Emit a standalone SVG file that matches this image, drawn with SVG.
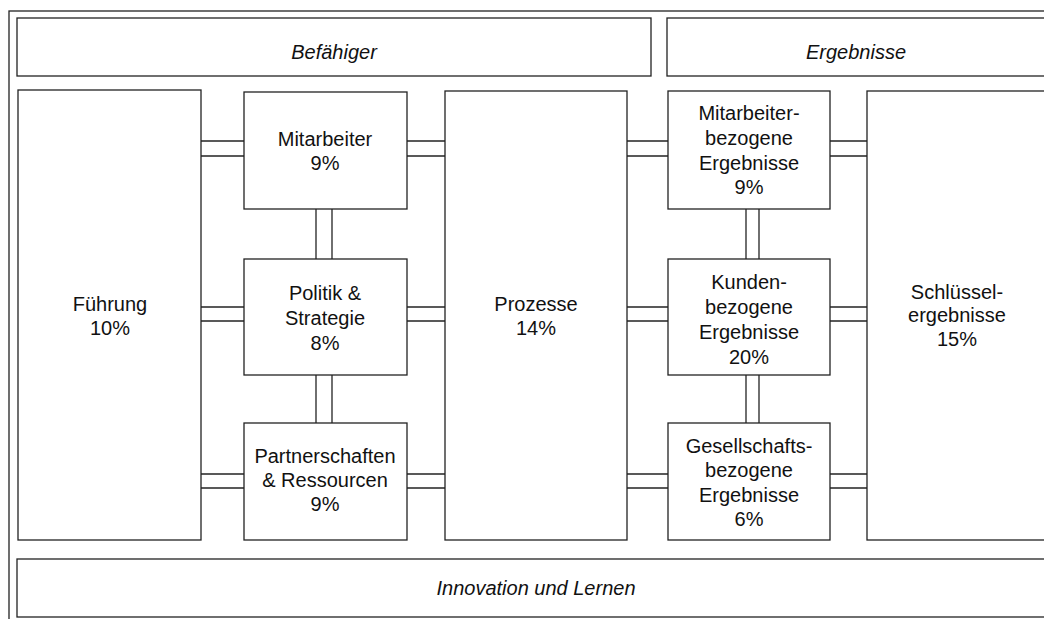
<svg xmlns="http://www.w3.org/2000/svg" width="1044" height="619" viewBox="0 0 1044 619">
  <style>
    .box { fill: #ffffff; stroke: #222222; stroke-width: 1.3; }
    .frame { fill: none; stroke: #222222; stroke-width: 1.3; }
    .link line { stroke: #222222; stroke-width: 1.3; }
    text { font-family: "Liberation Sans", Arial, sans-serif; font-size: 20px; fill: #111111; text-anchor: middle; }
    .hdr { font-style: italic; }
  </style>

  <!-- outer frame, running past the right and bottom edges -->
  <rect class="frame" x="9" y="11" width="1060" height="640"/>

  <!-- connectors: double bars between neighbouring boxes -->
  <g id="connectors" class="link">
    <!-- Führung to left column -->
    <line x1="201" y1="141" x2="244" y2="141"/><line x1="201" y1="156" x2="244" y2="156"/>
    <line x1="201" y1="307" x2="244" y2="307"/><line x1="201" y1="321" x2="244" y2="321"/>
    <line x1="201" y1="474" x2="244" y2="474"/><line x1="201" y1="488" x2="244" y2="488"/>
    <!-- left column to Prozesse -->
    <line x1="407" y1="141" x2="445" y2="141"/><line x1="407" y1="156" x2="445" y2="156"/>
    <line x1="407" y1="307" x2="445" y2="307"/><line x1="407" y1="321" x2="445" y2="321"/>
    <line x1="407" y1="474" x2="445" y2="474"/><line x1="407" y1="488" x2="445" y2="488"/>
    <!-- Prozesse to right column -->
    <line x1="627" y1="141" x2="668" y2="141"/><line x1="627" y1="156" x2="668" y2="156"/>
    <line x1="627" y1="307" x2="668" y2="307"/><line x1="627" y1="321" x2="668" y2="321"/>
    <line x1="627" y1="474" x2="668" y2="474"/><line x1="627" y1="488" x2="668" y2="488"/>
    <!-- right column to Schlüsselergebnisse -->
    <line x1="830" y1="141" x2="867" y2="141"/><line x1="830" y1="156" x2="867" y2="156"/>
    <line x1="830" y1="307" x2="867" y2="307"/><line x1="830" y1="321" x2="867" y2="321"/>
    <line x1="830" y1="474" x2="867" y2="474"/><line x1="830" y1="488" x2="867" y2="488"/>
    <!-- vertical links, left column -->
    <line x1="316" y1="209" x2="316" y2="259"/><line x1="332" y1="209" x2="332" y2="259"/>
    <line x1="316" y1="375" x2="316" y2="423"/><line x1="332" y1="375" x2="332" y2="423"/>
    <!-- vertical links, right column -->
    <line x1="746" y1="209" x2="746" y2="259"/><line x1="759" y1="209" x2="759" y2="259"/>
    <line x1="746" y1="375" x2="746" y2="423"/><line x1="759" y1="375" x2="759" y2="423"/>
  </g>

  <g id="befaehiger">
    <rect class="box" x="17" y="18" width="634" height="58"/>
    <text class="hdr" x="334" y="59">Befähiger</text>
  </g>

  <g id="ergebnisse">
    <rect class="box" x="667" y="18" width="390" height="58"/>
    <text class="hdr" x="856" y="59">Ergebnisse</text>
  </g>

  <g id="fuehrung">
    <rect class="box" x="18" y="90" width="183" height="450"/>
    <text x="110" y="311">Führung</text>
    <text x="110" y="335">10%</text>
  </g>

  <g id="mitarbeiter">
    <rect class="box" x="244" y="92" width="163" height="117"/>
    <text x="325" y="146">Mitarbeiter</text>
    <text x="325" y="170">9%</text>
  </g>

  <g id="politik">
    <rect class="box" x="244" y="259" width="163" height="116"/>
    <text x="325" y="300">Politik &amp;</text>
    <text x="325" y="325">Strategie</text>
    <text x="325" y="350">8%</text>
  </g>

  <g id="partnerschaften">
    <rect class="box" x="244" y="423" width="163" height="117"/>
    <text x="325" y="463">Partnerschaften</text>
    <text x="325" y="487">&amp; Ressourcen</text>
    <text x="325" y="511">9%</text>
  </g>

  <g id="prozesse">
    <rect class="box" x="445" y="91" width="182" height="449"/>
    <text x="536" y="311">Prozesse</text>
    <text x="536" y="335">14%</text>
  </g>

  <g id="mitarbeiter-ergebnisse">
    <rect class="box" x="668" y="91" width="162" height="118"/>
    <text x="749" y="120">Mitarbeiter-</text>
    <text x="749" y="145">bezogene</text>
    <text x="749" y="170">Ergebnisse</text>
    <text x="749" y="194">9%</text>
  </g>

  <g id="kunden-ergebnisse">
    <rect class="box" x="668" y="259" width="162" height="116"/>
    <text x="749" y="289">Kunden-</text>
    <text x="749" y="314">bezogene</text>
    <text x="749" y="339">Ergebnisse</text>
    <text x="749" y="364">20%</text>
  </g>

  <g id="gesellschaft-ergebnisse">
    <rect class="box" x="668" y="423" width="162" height="117"/>
    <text x="749" y="453">Gesellschafts-</text>
    <text x="749" y="477">bezogene</text>
    <text x="749" y="502">Ergebnisse</text>
    <text x="749" y="526">6%</text>
  </g>

  <g id="schluesselergebnisse">
    <rect class="box" x="867" y="91" width="180" height="449"/>
    <text x="957" y="299">Schlüssel-</text>
    <text x="957" y="322">ergebnisse</text>
    <text x="957" y="346">15%</text>
  </g>

  <g id="innovation">
    <rect class="box" x="17" y="559" width="1040" height="58"/>
    <text class="hdr" x="536" y="595">Innovation und Lernen</text>
  </g>
</svg>
